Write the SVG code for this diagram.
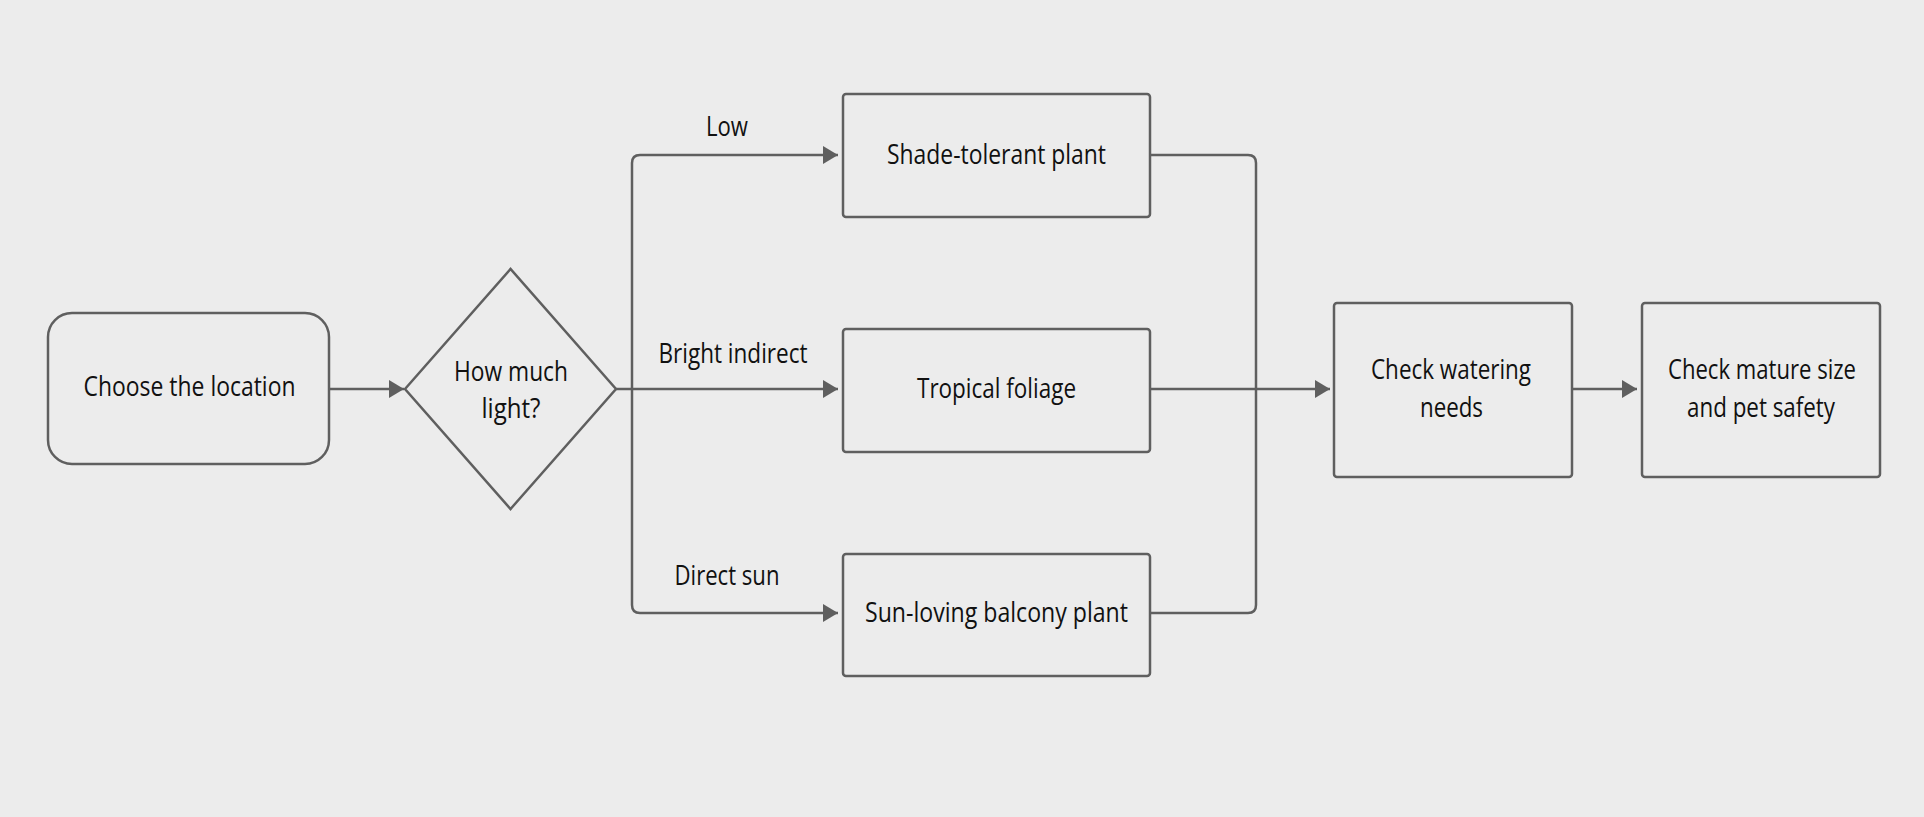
<svg xmlns="http://www.w3.org/2000/svg" width="1924" height="817" viewBox="0 0 1924 817">
<style>
  .node { fill: #ececec; stroke: #5f5f5f; stroke-width: 2.5; }
  .edge { fill: none; stroke: #5f5f5f; stroke-width: 2.5; }
  .t { font-family: "Open Sans", "Liberation Sans", sans-serif; font-size: 28px; fill: #111111; text-anchor: middle; }
</style>
<defs>
  <marker id="arr" markerUnits="userSpaceOnUse" markerWidth="16" markerHeight="18" refX="15" refY="9" orient="auto">
    <path d="M0,0 L15,9 L0,18 Z" fill="#5f5f5f"/>
  </marker>
</defs>
<rect width="1924" height="817" fill="#ececec"/>

<g id="connectors">
  <path class="edge" d="M329,389 H404" marker-end="url(#arr)"/>
  <path class="edge" d="M616,389 H838" marker-end="url(#arr)"/>
  <path class="edge" d="M632,389 V163 Q632,155 640,155 H838" marker-end="url(#arr)"/>
  <path class="edge" d="M632,389 V605 Q632,613 640,613 H838" marker-end="url(#arr)"/>
  <path class="edge" d="M1150,155 H1248 Q1256,155 1256,163 V605 Q1256,613 1248,613 H1150"/>
  <path class="edge" d="M1150,389 H1330" marker-end="url(#arr)"/>
  <path class="edge" d="M1572,389 H1637" marker-end="url(#arr)"/>
  <text class="t" x="727" y="136" textLength="42" lengthAdjust="spacingAndGlyphs">Low</text>
  <text class="t" x="733" y="363" textLength="149" lengthAdjust="spacingAndGlyphs">Bright indirect</text>
  <text class="t" x="727" y="585" textLength="105" lengthAdjust="spacingAndGlyphs">Direct sun</text>
</g>

<g id="start">
  <rect class="node" x="48" y="313" width="281" height="151" rx="24"/>
  <text class="t" x="189.5" y="396" textLength="212" lengthAdjust="spacingAndGlyphs">Choose the location</text>
</g>

<g id="decision">
  <polygon class="node" points="405,389 510.5,269 616,389 510.5,509"/>
  <text class="t" x="511" y="381" textLength="114" lengthAdjust="spacingAndGlyphs">How much</text>
  <text class="t" x="511" y="418" textLength="59" lengthAdjust="spacingAndGlyphs">light?</text>
</g>

<g id="shade">
  <rect class="node" x="843" y="94" width="307" height="123" rx="3"/>
  <text class="t" x="996.5" y="164" textLength="219" lengthAdjust="spacingAndGlyphs">Shade-tolerant plant</text>
</g>

<g id="tropical">
  <rect class="node" x="843" y="329" width="307" height="123" rx="3"/>
  <text class="t" x="996.5" y="398" textLength="159" lengthAdjust="spacingAndGlyphs">Tropical foliage</text>
</g>

<g id="sun">
  <rect class="node" x="843" y="554" width="307" height="122" rx="3"/>
  <text class="t" x="996.5" y="622" textLength="263" lengthAdjust="spacingAndGlyphs">Sun-loving balcony plant</text>
</g>

<g id="watering">
  <rect class="node" x="1334" y="303" width="238" height="174" rx="3"/>
  <text class="t" x="1451" y="379" textLength="160" lengthAdjust="spacingAndGlyphs">Check watering</text>
  <text class="t" x="1451.5" y="417" textLength="63" lengthAdjust="spacingAndGlyphs">needs</text>
</g>

<g id="mature">
  <rect class="node" x="1642" y="303" width="238" height="174" rx="3"/>
  <text class="t" x="1762" y="379" textLength="188" lengthAdjust="spacingAndGlyphs">Check mature size</text>
  <text class="t" x="1761" y="417" textLength="148" lengthAdjust="spacingAndGlyphs">and pet safety</text>
</g>
</svg>
